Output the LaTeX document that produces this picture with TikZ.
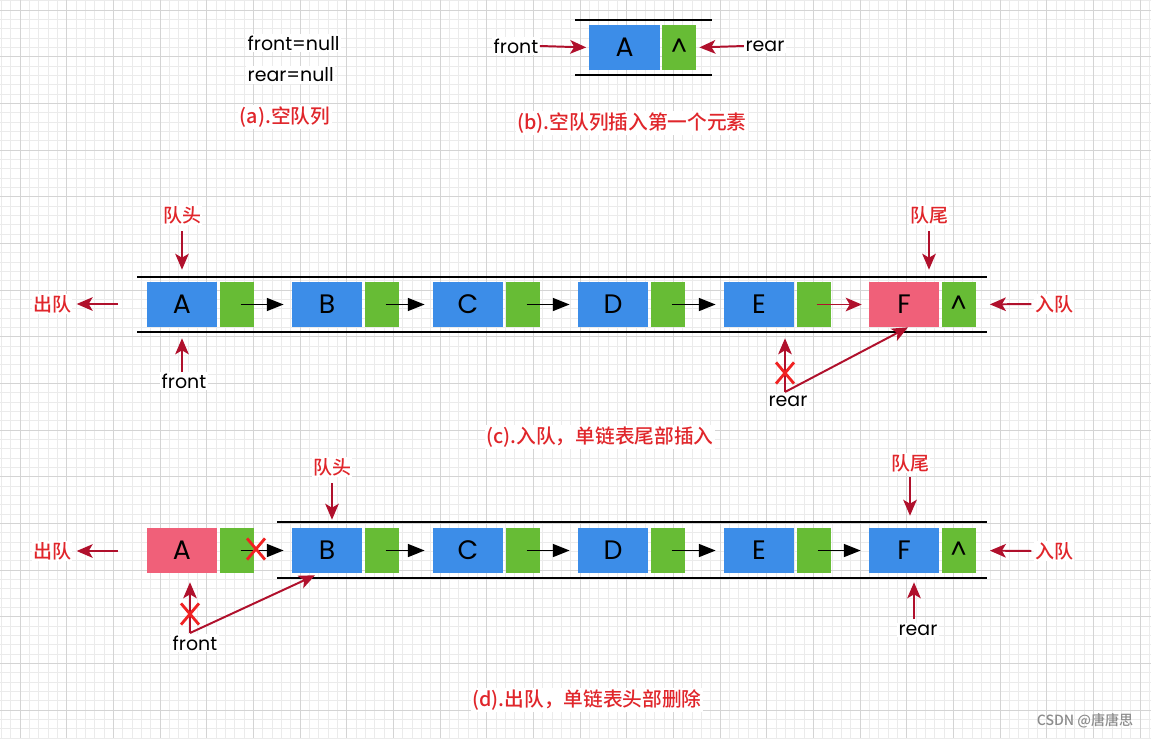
\documentclass[tikz,border=0pt]{standalone}
\usepackage{fontspec}
\setmainfont{Poppins}
\newfontfamily\cjk{Noto Sans CJK SC Medium}
\usetikzlibrary{positioning,calc,arrows.meta,shapes.misc}
\definecolor{boxblue}{HTML}{3C8DE8}
\definecolor{boxgreen}{HTML}{67BC35}
\definecolor{boxpink}{HTML}{F06079}
\definecolor{ptrred}{HTML}{B0102C}
\definecolor{txtred}{HTML}{E0262B}
\definecolor{xred}{HTML}{F02222}
\tikzset{
	elem/.style={fill=boxblue, minimum width=1.75cm, minimum height=1.125cm, inner sep=0pt, font=\fontsize{19}{21}\selectfont},
	nxt/.style={fill=boxgreen, minimum width=0.85cm, minimum height=1.125cm, inner sep=0pt, font=\fontsize{18}{20}\selectfont},
	link/.style={-{Triangle[length=0.42cm,width=0.32cm]}, line width=1.4pt},
	ptr/.style={-{Stealth[length=0.4cm,width=0.34cm,inset=0.1cm]}, draw=ptrred, line width=1.4pt},
	lbl/.style={fill=white, inner sep=1pt, font=\fontsize{13.5}{15}\selectfont},
	redlbl/.style={fill=white, inner sep=1pt, text=txtred, font=\cjk\fontsize{13.5}{15}\selectfont},
	caption/.style={fill=white, inner sep=1pt, text=txtred, font=\cjk\fontsize{14}{16}\selectfont},
	rail/.style={line width=1.4pt},
	crossmark/.style={cross out, draw=xred, line width=2pt, minimum width=0.38cm, minimum height=0.46cm, inner sep=0pt},
	gridminor/.style={draw=black!8, line width=0.4pt},
	gridmajor/.style={draw=black!17, line width=0.5pt}
}
\begin{document}
\begin{tikzpicture}[x=0.025cm, y=-0.025cm]
	\useasboundingbox (0,0) rectangle (1151,738);
	\fill[white] (0,0) rectangle (1151,738);
	% grid paper
	\foreach \k in {0,...,124} \draw[gridminor] ({20+(\k-2)*9.3333},0) -- ++(0,738);
	\foreach \k in {0,...,80} \draw[gridminor] (0,{10+(\k-1)*9.3333}) -- ++(1151,0);
	\foreach \k in {0,...,24} \draw[gridmajor] ({20+\k*46.667},0) -- ++(0,738);
	\foreach \k in {0,...,15} \draw[gridmajor] (0,{10+\k*46.667}) -- ++(1151,0);

	% (a)
	\node[lbl, anchor=west] (anull) at (246,43) {front=null};
	\node[lbl, anchor=west] (rnull) at (246,75) {rear=null};
	\node[caption] (acap) at (285,117) {(a).空队列};

	% (b)
	\draw[rail] (575,20) -- (712,20);
	\draw[rail] (575,75) -- (712,75);
	\node[elem] (b1) at (624.5,47.5) {A};
	\node[nxt, right=0.05cm of b1] (bn1) {\textasciicircum};
	\node[lbl] (bfront) at (516,46) {front};
	\node[lbl] (brear) at (765,46) {rear};
	\draw[ptr, shorten >=0.075cm] (bfront.east) -- (b1.west);
	\draw[ptr, shorten >=0.075cm] (brear.west) -- (bn1.east);
	\node[caption] (bcap) at (632,123) {(b).空队列插入第一个元素};

	% (c)
	\draw[rail] (137,277) -- (987,277);
	\draw[rail] (137,332) -- (987,332);
	\foreach \l/\x [count=\i] in {A/182,B/327,C/468,D/613,E/759} {
		\node[elem] (c\i) at (\x,304.5) {\l};
		\node[nxt, right=0.05cm of c\i] (cn\i) {};
	}
	\node[elem, fill=boxpink] (c6) at (904,304.5) {F};
	\node[nxt, right=0.05cm of c6] (cn6) {\textasciicircum};
	\foreach \i [evaluate=\i as \j using int(\i+1)] in {1,...,4}
		\draw[link, shorten >=0.2cm] ($(cn\i.center)+(4,0)$) -- (c\j.west);
	\draw[ptr, shorten >=0.175cm] ($(cn5.center)+(3,0)$) -- (c6.west);
	\node[redlbl] (chead) at (182,215) {队头};
	\draw[ptr, shorten <=0.15cm, shorten >=0.3cm] (chead.south) -- (c1.north);
	\node[redlbl] (ctail) at (929,215) {队尾};
	\draw[ptr, shorten <=0.15cm, shorten >=0.3cm] (ctail.south) -- (ctail.south |- c6.north);
	\node[redlbl] (cout) at (52,304) {出队};
	\coordinate (cdq) at (118,304);
	\draw[ptr, shorten >=0.1cm] (cdq) -- (cout.east);
	\node[redlbl] (cin) at (1054,304) {入队};
	\draw[ptr, shorten <=0.05cm, shorten >=0.35cm] (cin.west) -- (cn6.east);
	\node[lbl] (cfront) at (184,381) {front};
	\draw[ptr, shorten >=0.275cm] (c1.south |- cfront.north) -- (c1.south);
	\coordinate (crj) at (785,392);
	\node[lbl] (crear) at (788,401) {rear};
	\draw[ptr, shorten >=0.275cm] (crj) -- (crj |- c5.south);
	\draw[ptr] (crj) -- ($(c6.south)+(4,0)$);
	\node[crossmark] (cx) at (785,373) {};
	\node[caption] (ccap) at (600,437) {(c).入队，单链表尾部插入};

	% (d)
	\draw[rail] (277,522) -- (987,522);
	\draw[rail] (277,578) -- (987,578);
	\node[elem, fill=boxpink] (d1) at (182,550.5) {A};
	\node[nxt, right=0.05cm of d1] (dn1) {};
	\foreach \l/\x [count=\i from 2] in {B/327,C/468,D/613,E/759,F/904} {
		\node[elem] (d\i) at (\x,550.5) {\l};
		\node[nxt, right=0.05cm of d\i] (dn\i) {};
	}
	\node at (dn6) {\fontsize{18}{20}\selectfont\textasciicircum};
	\foreach \i [evaluate=\i as \j using int(\i+1)] in {1,...,5}
		\draw[link, shorten >=0.2cm] ($(dn\i.center)+(4,0)$) -- (d\j.west);
	\node[crossmark] (dx1) at (256,549) {};
	\node[redlbl] (dhead) at (332,467) {队头};
	\draw[ptr, shorten <=0.15cm, shorten >=0.2cm] (dhead.south) -- (dhead.south |- d2.north);
	\node[redlbl] (dtail) at (910,463) {队尾};
	\draw[ptr, shorten <=0.1cm, shorten >=0.3cm] (dtail.south) -- (dtail.south |- d6.north);
	\node[redlbl] (dout) at (52,551) {出队};
	\coordinate (ddq) at (118,551);
	\draw[ptr, shorten >=0.1cm] (ddq) -- (dout.east);
	\node[redlbl] (din) at (1054,551) {入队};
	\draw[ptr, shorten <=0.05cm, shorten >=0.35cm] (din.west) -- (dn6.east);
	\node[lbl] (drear) at (918,630) {rear};
	\coordinate (drj) at (914,619);
	\draw[ptr, shorten >=0.225cm] (drj) -- (drj |- d6.south);
	\coordinate (dfj) at (190,633);
	\node[lbl] (dfront) at (195,643) {front};
	\draw[ptr, shorten >=0.225cm] (dfj) -- (dfj |- d1.south);
	\draw[ptr] (dfj) -- ($(d2.south)+(-12,2)$);
	\node[crossmark] (dx2) at (190,614) {};
	\node[caption] (dcap) at (587,700) {(d).出队，单链表头部删除};

	\node[text=black!45, font=\cjk\fontsize{10}{12}\selectfont] (mark) at (1085,721) {CSDN @唐唐思};
\end{tikzpicture}
\end{document}
